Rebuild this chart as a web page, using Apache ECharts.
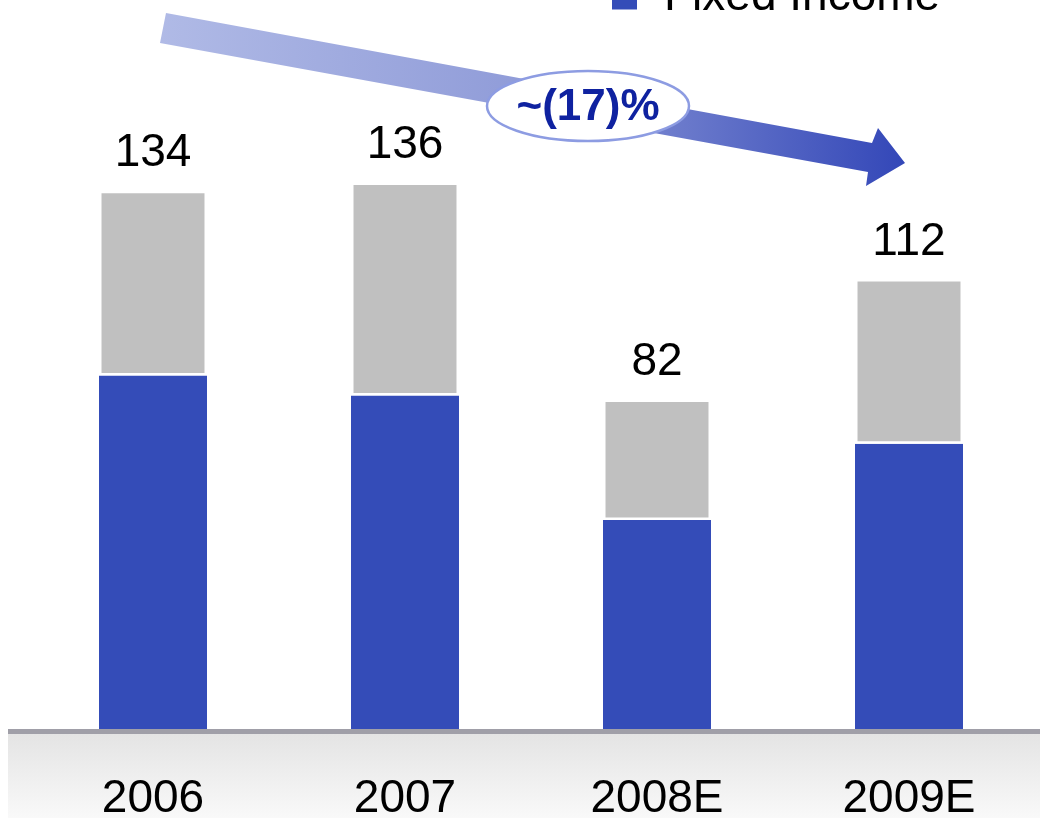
<!DOCTYPE html>
<html><head><meta charset="utf-8">
<script src="https://cdn.jsdelivr.net/npm/echarts@6/dist/echarts.min.js"></script>
<style>html,body{margin:0;padding:0;background:#fff;overflow:hidden}#c{width:1040px;height:818px}</style>
</head><body><div id="c"></div>
<script>
const categories = ['2006', '2007', '2008E', '2009E'];
const fixedIncome = [88, 83, 52, 71];
const otherRevenue = [46, 53, 30, 41];
const changeLabel = '~(17)%';

const chart = echarts.init(document.getElementById('c'), null, {renderer: 'canvas'});
const FONT = '"Liberation Sans", Arial, sans-serif';

chart.setOption({
  animation: false,
  backgroundColor: '#ffffff',
  grid: {left: 27, right: 5, top: 46, bottom: 89, containLabel: false, outerBoundsMode: 'none'},
  legend: {
    data: ['Fixed Income'],
    left: 607,
    top: -31,
    icon: 'rect',
    itemWidth: 25,
    itemHeight: 25,
    textStyle: {fontFamily: FONT, fontSize: 46, color: '#000', padding: [0, 0, 0, 22]}
  },
  xAxis: {
    type: 'category',
    data: categories,
    axisLine: {show: false},
    axisTick: {show: false},
    axisLabel: {fontFamily: FONT, fontSize: 46, color: '#000', margin: 47}
  },
  yAxis: {
    type: 'value', min: 0, max: 170, show: false,
    splitLine: {show: false}
  },
  graphic: [
    {type: 'rect', z: 0, shape: {x: 8, y: 734, width: 1032, height: 84},
     style: {fill: {type: 'linear', x: 0, y: 0, x2: 0, y2: 1,
       colorStops: [{offset: 0, color: '#e4e4e4'}, {offset: 1, color: '#f9f9f9'}]}}},
    {type: 'rect', z: 5, shape: {x: 8, y: 729, width: 1032, height: 5}, style: {fill: '#a09fa8'}},
    {type: 'polygon', z: 5,
     shape: {points: [[166, 13], [872, 143], [878, 128], [905, 163], [866, 186], [868, 172], [160, 43]]},
     style: {fill: {type: 'linear', x: 0, y: 0, x2: 1, y2: 0,
       colorStops: [{offset: 0, color: '#b0bae6'}, {offset: 0.5, color: '#8f9bd8'}, {offset: 1, color: '#3347b8'}]}}},
    {type: 'ellipse', z: 6, shape: {cx: 588, cy: 106, rx: 101, ry: 35},
     style: {fill: '#ffffff', stroke: '#8d9ce2', lineWidth: 2.5}},
    {type: 'text', z: 7,
     style: {text: changeLabel, x: 588, y: 108, align: 'center', verticalAlign: 'middle',
       fill: '#0f22a0', font: 'bold 44px "Liberation Sans", Arial, sans-serif'}}
  ],
  series: [
    {
      name: 'Fixed Income', type: 'bar', stack: 'rev', data: fixedIncome,
      barWidth: 108,
      itemStyle: {color: '#344cb8'}
    },
    {
      name: 'Other', type: 'bar', stack: 'rev', data: otherRevenue,
      barWidth: 108,
      itemStyle: {color: '#c0c0c0', borderColor: '#ffffff', borderWidth: 2.5},
      label: {
        show: true, position: 'top', distance: 14,
        fontFamily: FONT, fontSize: 46, color: '#000',
        formatter: p => String(fixedIncome[p.dataIndex] + otherRevenue[p.dataIndex])
      }
    }
  ]
});
</script>
</body></html>
